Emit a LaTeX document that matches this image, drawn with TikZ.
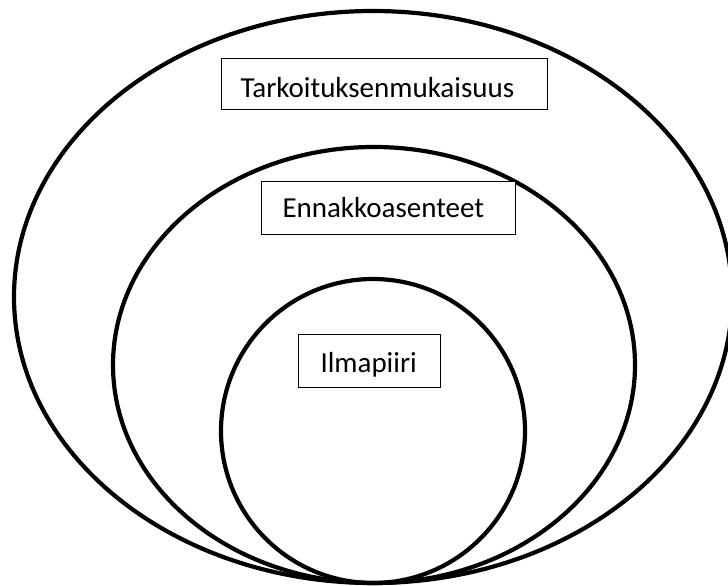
\documentclass[tikz,border=0pt]{standalone}
\usepackage{fontspec}
\setmainfont{Carlito}
\begin{document}
\begin{tikzpicture}[x=1pt,y=-1pt,
  ring/.style={line width=4.2pt},
  label/.style={draw, line width=1pt, fill=white, inner ysep=0pt, align=left, font=\fontsize{29}{35}\selectfont}]
\useasboundingbox (0,0) rectangle (728,586);
\fill[white] (0,0) rectangle (728,586);
\draw[ring] (373,297) ellipse [x radius=359, y radius=286];
\draw[ring] (374,365) ellipse [x radius=261, y radius=218];
\draw[ring] (373,431) ellipse [x radius=152, y radius=152];
\node[label, inner xsep=19pt, text width=288pt, text height=39pt, text depth=12pt, anchor=north west] (t) at (221,58) {Tarkoituksenmukaisuus};
\node[label, inner xsep=21pt, text width=212pt, text height=36pt, text depth=17pt, anchor=north west] (e) at (261,181) {Ennakkoasenteet};
\node[label, inner xsep=22pt, text width=98pt, text height=38pt, text depth=15pt, anchor=north west] (i) at (298,334) {Ilmapiiri};
\end{tikzpicture}
\end{document}
